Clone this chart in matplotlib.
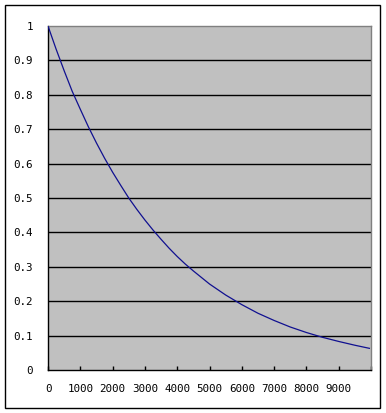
import matplotlib
matplotlib.use("Agg")
import matplotlib.pyplot as plt
from matplotlib.patches import Rectangle

# values
x_vals = [0, 250, 500, 750, 1000, 1250, 1500, 1750, 2000, 2250, 2500, 2750,
          3000, 3250, 3500, 3750, 4000, 4250, 4500, 4750, 5000, 5500, 6000,
          6500, 7000, 7500, 8000, 8500, 9000, 9500, 9950]
y_vals = [1.0, 0.933, 0.87, 0.81, 0.758, 0.707, 0.66, 0.616, 0.575, 0.537,
          0.50, 0.467, 0.436, 0.407, 0.38, 0.354, 0.33, 0.308, 0.288, 0.269,
          0.25, 0.218, 0.19, 0.165, 0.144, 0.125, 0.109, 0.095, 0.083, 0.072,
          0.063]

x_ticks = list(range(0, 10001, 1000))
x_labels = [str(t) for t in range(0, 10000, 1000)] + [""]
y_ticks = [0, 0.1, 0.2, 0.3, 0.4, 0.5, 0.6, 0.7, 0.8, 0.9, 1]
y_labels = ["0", "0.1", "0.2", "0.3", "0.4", "0.5", "0.6", "0.7", "0.8", "0.9", "1"]

W, H = 386, 413
fig = plt.figure(figsize=(W / 100, H / 100), dpi=100)
fig.patch.set_facecolor("white")

# outer chart border
fig.add_artist(Rectangle((5 / W, 1 - 408 / H), 375 / W, 403 / H,
                         transform=fig.transFigure, fill=False,
                         edgecolor="black", linewidth=1))

ax = fig.add_axes([48 / W, 1 - 370 / H, (371 - 48) / W, (370 - 26) / H])
ax.set_facecolor("#C0C0C0")

for y in y_ticks[1:-1]:
    ax.axhline(y, color="black", linewidth=1, zorder=1)

ax.plot(x_vals, y_vals, color="#101090", linewidth=0.9, zorder=3)

ax.set_xlim(0, 10000)
ax.set_ylim(0, 1)

ax.set_xticks(x_ticks)
ax.set_xticklabels(x_labels, family="DejaVu Sans Mono", fontsize=7.8)
ax.set_yticks(y_ticks)
ax.set_yticklabels(y_labels, family="DejaVu Sans Mono", fontsize=7.8)

ax.tick_params(axis="x", direction="in", length=3, width=1, pad=10)
ax.tick_params(axis="y", length=0, pad=11)

ax.spines["top"].set_color("#808080")
ax.spines["right"].set_color("#808080")
ax.spines["left"].set_color("black")
ax.spines["bottom"].set_color("black")
for s in ax.spines.values():
    s.set_linewidth(1)

plt.savefig("out.png", dpi=100)
